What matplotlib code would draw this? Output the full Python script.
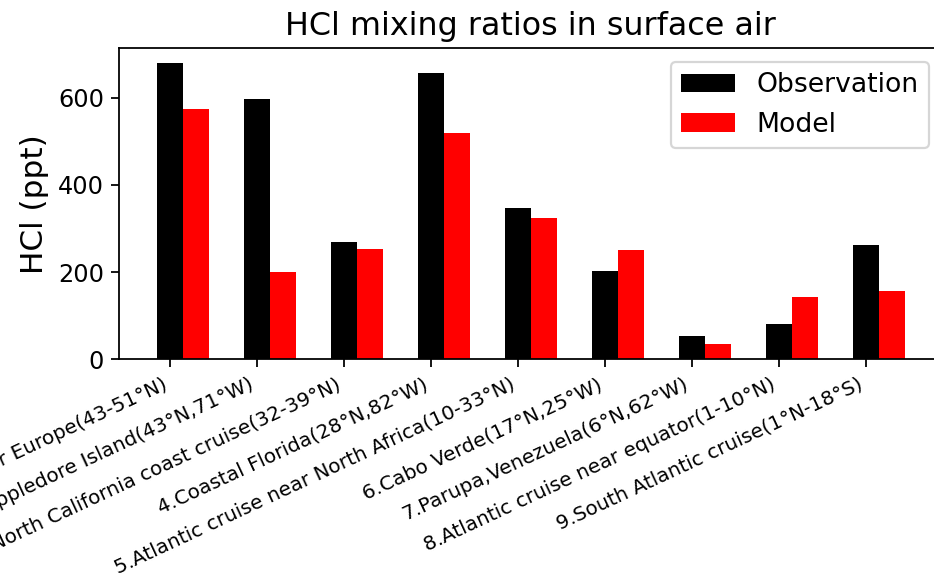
import numpy as np
import matplotlib
matplotlib.use('Agg')
import matplotlib.pyplot as plt

# Sites and HCl mixing ratios (ppt)
sites = ['1.Atlantic cruise near Europe(43-51°N)',
         '2.Appledore Island(43°N,71°W)',
         '3.North California coast cruise(32-39°N)',
         '4.Coastal Florida(28°N,82°W)',
         '5.Atlantic cruise near North Africa(10-33°N)',
         '6.Cabo Verde(17°N,25°W)',
         '7.Parupa,Venezuela(6°N,62°W)',
         '8.Atlantic cruise near equator(1-10°N)',
         '9.South Atlantic cruise(1°N-18°S)']
observation = [679, 596, 268, 657, 346, 203, 53, 81, 263]
model = [573, 201, 254, 519, 323, 250, 34, 143, 157]

width = 0.3
x = np.arange(len(sites))

fig = plt.figure(figsize=(934/160, 573/160), dpi=160)
ax1 = fig.add_axes([0.1279, 0.3729, 0.8809, 0.5428])

ax1.bar(x, observation, width, color='black', label='Observation')
ax1.bar(x + width, model, width, color='red', label='Model')

ax1.set_xticks(x)
ax1.set_xticklabels(sites, rotation=25, ha='right', fontsize=9)
ax1.tick_params(axis='y', labelsize=10.8)
ax1.set_ylabel('HCl (ppt)', fontsize=14)
ax1.set_title('HCl mixing ratios in surface air', fontsize=14.3)
ax1.legend(loc='upper right', fontsize=12)

fig.savefig('out.png', dpi=160)
